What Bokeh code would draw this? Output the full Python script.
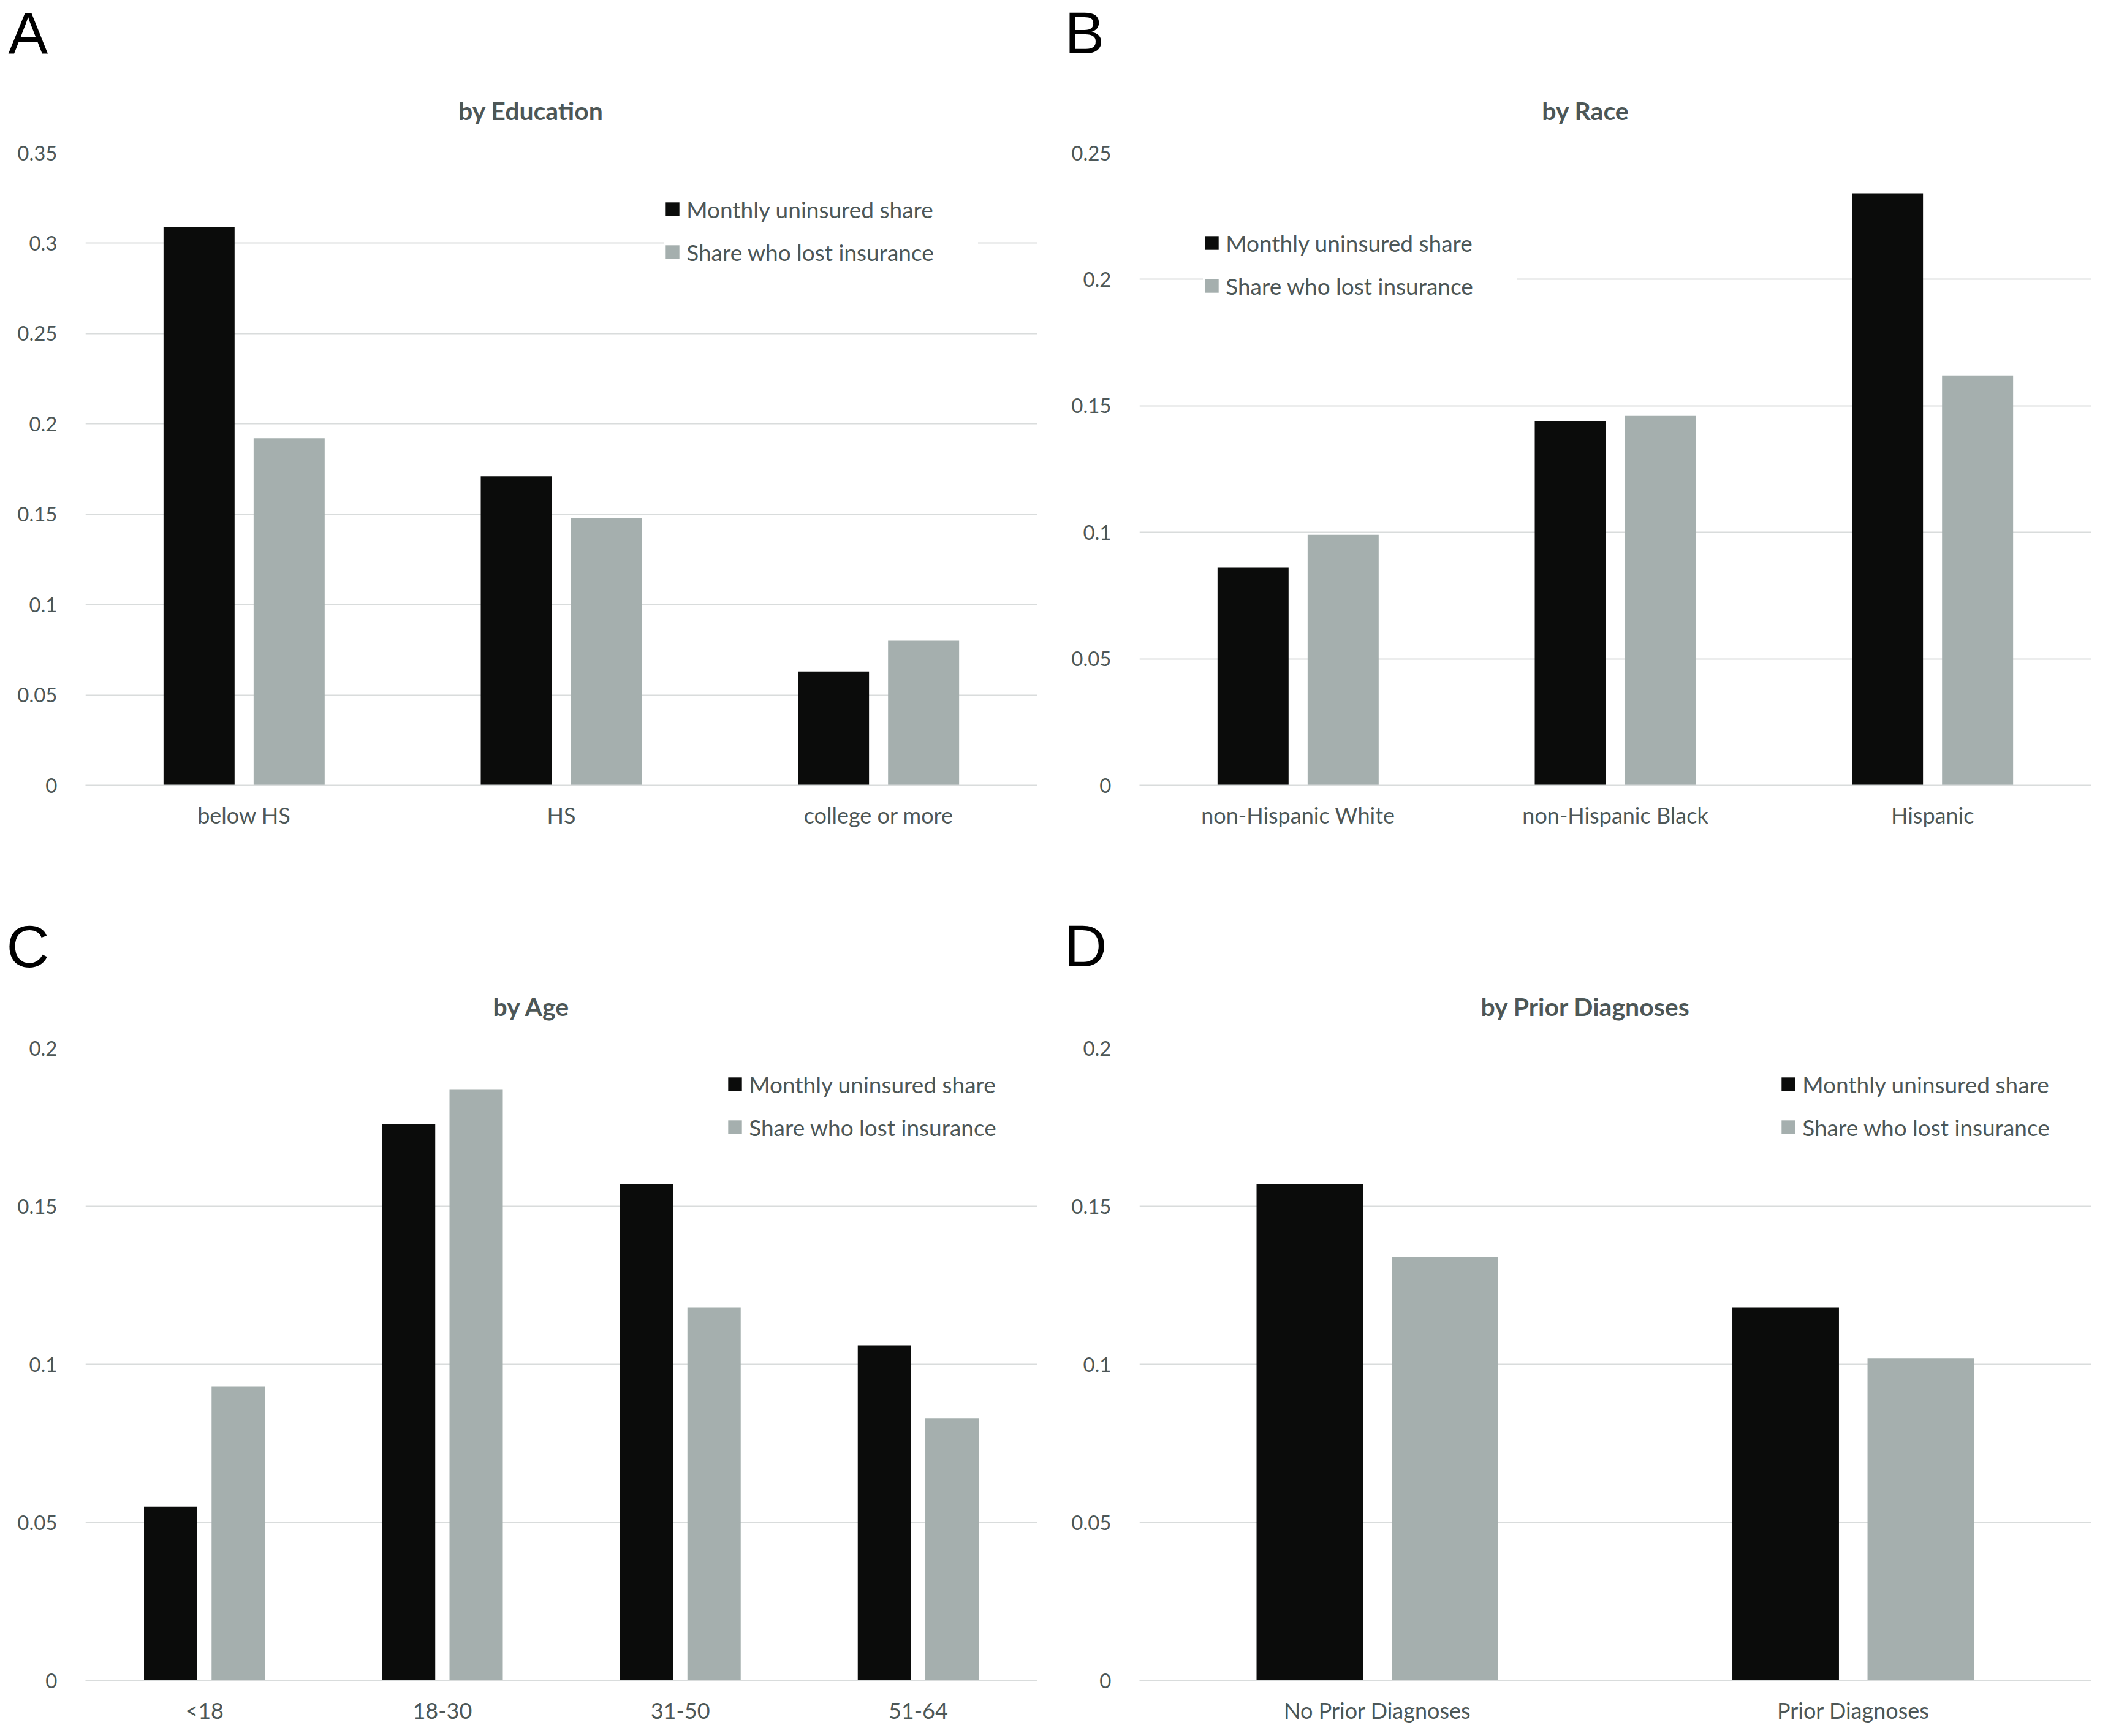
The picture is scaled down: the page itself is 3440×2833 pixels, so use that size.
from bokeh.plotting import figure
from bokeh.models import (Range1d, FactorRange, FixedTicker, Legend, LegendItem,
                          Label, ColumnDataSource)
from bokeh.transform import dodge
from bokeh.layouts import column, row
from bokeh.embed import file_html
from bokeh.resources import INLINE

# ---------------- data ----------------
series_names = ["Monthly uninsured share", "Share who lost insurance"]

edu_cats = ["below HS", "HS", "college or more"]
edu_uninsured = [0.309, 0.171, 0.063]
edu_lost = [0.192, 0.148, 0.080]

race_cats = ["non-Hispanic White", "non-Hispanic Black", "Hispanic"]
race_uninsured = [0.086, 0.144, 0.234]
race_lost = [0.099, 0.146, 0.162]

age_cats = ["<18", "18-30", "31-50", "51-64"]
age_uninsured = [0.055, 0.176, 0.157, 0.106]
age_lost = [0.093, 0.187, 0.118, 0.083]

diag_cats = ["No Prior Diagnoses", "Prior Diagnoses"]
diag_uninsured = [0.157, 0.118]
diag_lost = [0.134, 0.102]

ticks_a = [0, 0.05, 0.1, 0.15, 0.2, 0.25, 0.3, 0.35]
tick_labels_a = ["0", "0.05", "0.1", "0.15", "0.2", "0.25", "0.3", "0.35"]
ticks_b = [0, 0.05, 0.1, 0.15, 0.2, 0.25]
tick_labels_b = ["0", "0.05", "0.1", "0.15", "0.2", "0.25"]
ticks_cd = [0, 0.05, 0.1, 0.15, 0.2]
tick_labels_cd = ["0", "0.05", "0.1", "0.15", "0.2"]

panel_letters = ["A", "B", "C", "D"]
panel_titles = ["by Education", "by Race", "by Age", "by Prior Diagnoses"]

# ---------------- style ----------------
BLACK = "#0b0c0b"
GRAY = "#a5afae"
TXT = "#4d5757"
GRID = "#d9dcdc"
FONT = "Lato"
TICK_FS = "33px"
CAT_FS = "36px"
LEG_FS = "37px"
ROW_H = 46
GLYPH = 28
PANEL_W = 1720


def header(letter, title, h, letter_xy, title_xy):
    p = figure(width=PANEL_W, height=h, x_range=Range1d(0, 1), y_range=Range1d(0, 1),
               x_axis_location=None, y_axis_location=None, min_border=0,
               outline_line_color=None, output_backend="svg", toolbar_location=None,
               background_fill_color="white", border_fill_color="white")
    p.grid.visible = False
    p.add_layout(Label(x=letter_xy[0], y=letter_xy[1], x_units="screen",
                       y_units="screen", text=letter,
                       text_font="Liberation Sans", text_font_size="97px",
                       text_color="#000000", text_align="left",
                       text_baseline="alphabetic"))
    p.add_layout(Label(x=title_xy[0], y=title_xy[1], x_units="screen",
                       y_units="screen", text=title,
                       text_font=FONT, text_font_style="bold",
                       text_font_size="41px", text_color=TXT,
                       text_align="center", text_baseline="alphabetic"))
    return p


def panel(cats, s1, s2, yticks, ylabels, h, bt, bb, frame_left, frame_bottom, legend_sq):
    p = figure(x_range=FactorRange(*cats, range_padding=0),
               y_range=Range1d(0, yticks[-1]),
               width=PANEL_W, height=h, output_backend="svg", toolbar_location=None,
               min_border_left=139, min_border_right=28, min_border_top=bt,
               min_border_bottom=bb, outline_line_color=None,
               background_fill_color="white", border_fill_color="white")
    src = ColumnDataSource(dict(cat=cats, u=s1, l=s2))
    r1 = p.vbar(x=dodge("cat", -0.142, range=p.x_range), top="u", width=0.224,
                source=src, fill_color=BLACK, line_color=None)
    r2 = p.vbar(x=dodge("cat", 0.142, range=p.x_range), top="l", width=0.224,
                source=src, fill_color=GRAY, line_color=None)

    p.xgrid.grid_line_color = None
    p.ygrid.grid_line_color = GRID
    p.ygrid.grid_line_width = 2

    p.yaxis.ticker = FixedTicker(ticks=yticks)
    p.yaxis.major_label_overrides = dict(zip(yticks, ylabels))
    p.yaxis.axis_line_color = None
    p.yaxis.major_tick_line_color = None
    p.yaxis.minor_tick_line_color = None
    p.yaxis.major_label_standoff = 40
    p.yaxis.major_label_text_font = FONT
    p.yaxis.major_label_text_font_size = TICK_FS
    p.yaxis.major_label_text_color = TXT

    p.xaxis.axis_line_color = GRID
    p.xaxis.axis_line_width = 2
    p.xaxis.major_tick_line_color = None
    p.xaxis.minor_tick_line_color = None
    p.xaxis.major_label_standoff = 20
    p.xaxis.major_label_text_font = FONT
    p.xaxis.major_label_text_font_size = CAT_FS
    p.xaxis.major_label_text_color = TXT

    # legend: visible square's left edge and second-row centre (page pixels)
    sq_x, row2_c = legend_sq
    lx = sq_x - 0.1 * GLYPH - frame_left
    ly = frame_bottom - (row2_c + ROW_H / 2)
    leg = Legend(items=[LegendItem(label=series_names[0], renderers=[r1]),
                        LegendItem(label=series_names[1], renderers=[r2])],
                 location=(lx, ly), orientation="vertical",
                 glyph_width=GLYPH, glyph_height=GLYPH, label_standoff=9,
                 spacing=70 - ROW_H, padding=0, margin=0,
                 label_height=ROW_H, label_width=476,
                 border_line_color=None, background_fill_color="white",
                 background_fill_alpha=1.0,
                 label_text_font=FONT, label_text_font_size=LEG_FS,
                 label_text_color=TXT)
    p.add_layout(leg)
    return p


HEAD_TOP = 210
HEAD_BOT = 250

hA = header(panel_letters[0], panel_titles[0], HEAD_TOP, (13, 157), (866, 30))
hB = header(panel_letters[1], panel_titles[1], HEAD_TOP, (17, 157), (867, 30))
hC = header(panel_letters[2], panel_titles[2], HEAD_BOT, (10, 126), (867, 28))
hD = header(panel_letters[3], panel_titles[3], HEAD_BOT, (16, 127), (867, 28))

pA = panel(edu_cats, edu_uninsured, edu_lost, ticks_a, tick_labels_a,
           1210, 39, 139, 139, 1281, (1086, 411))
pB = panel(race_cats, race_uninsured, race_lost, ticks_b, tick_labels_b,
           1210, 39, 139, 1859, 1281, (1966, 466))
pC = panel(age_cats, age_uninsured, age_lost, ticks_cd, tick_labels_cd,
           1163, 40, 91, 139, 2742, (1188, 1839))
pD = panel(diag_cats, diag_uninsured, diag_lost, ticks_cd, tick_labels_cd,
           1163, 40, 91, 1859, 2742, (2907, 1839))

layout = column(row(hA, hB), row(pA, pB), row(hC, hD), row(pC, pD))
open("out.html", "w").write(file_html(layout, INLINE))
